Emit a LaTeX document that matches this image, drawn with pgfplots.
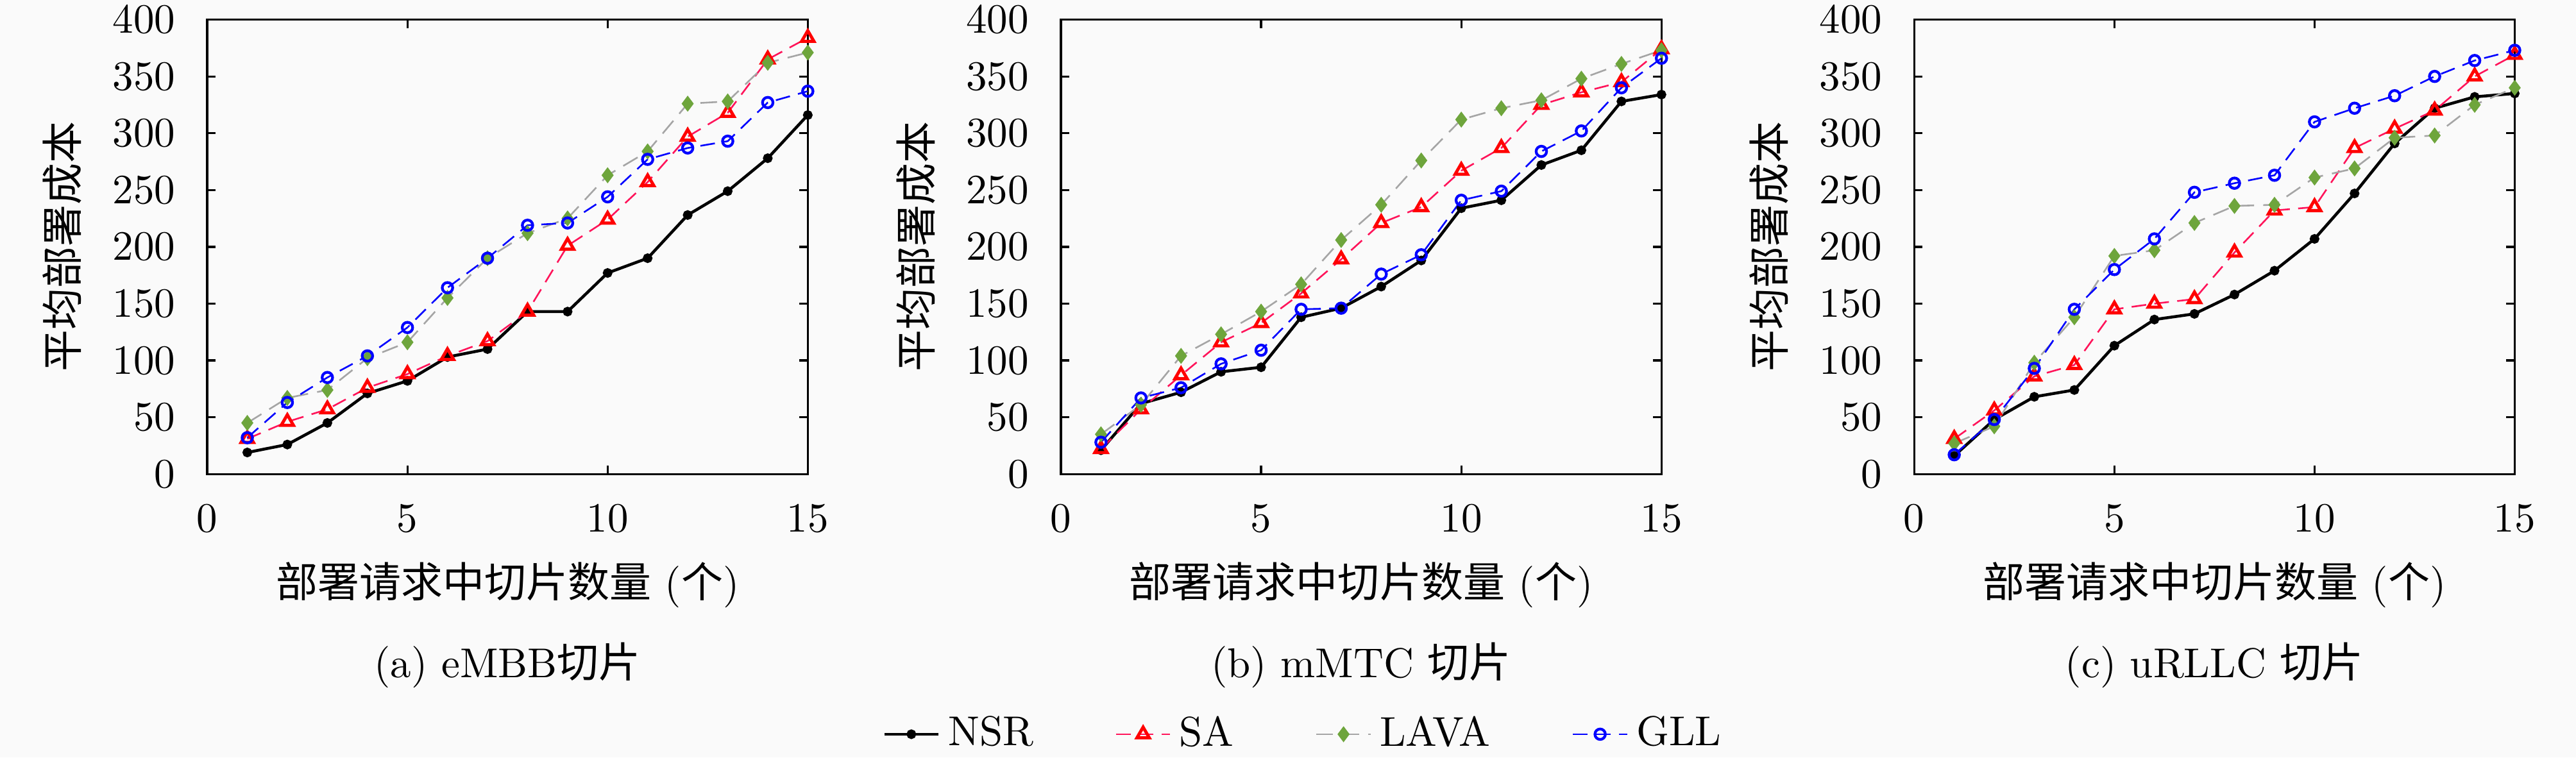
\documentclass[border=0pt]{standalone}
\usepackage{fontspec}
\usepackage{pgfplots}
\usepackage{pgfplotstable}
\pgfplotsset{compat=1.18}
\newfontfamily\cjk{Noto Sans CJK SC}
\definecolor{bg}{RGB}{250,250,250}
\definecolor{sared}{RGB}{255,20,90}
\definecolor{lavagreen}{RGB}{110,165,60}
\definecolor{lavagray}{RGB}{165,165,165}

% eMBB
\pgfplotstableread{
x nsr sa lava gll
1 19 31 45 32
2 26 46 67 63
3 45 57 74 85
4 71 76 102 104
5 82 88 116 129
6 103 104 155 164
7 110 117 190 190
8 143 143 212 219
9 143 201 225 221
10 177 224 263 244
11 190 257 284 277
12 228 297 326 287
13 249 318 328 293
14 278 365 362 327
15 316 384 371 337
}\tA
% mMTC
\pgfplotstableread{
x nsr sa lava gll
1 21 22 35 28
2 62 57 61 67
3 72 87 104 76
4 90 116 123 97
5 94 133 143 109
6 138 159 167 145
7 146 189 206 146
8 165 221 237 176
9 188 235 276 193
10 234 267 312 241
11 241 287 322 249
12 272 325 329 284
13 285 336 348 302
14 328 345 361 340
15 334 374 373 366
}\tB
% uRLLC
\pgfplotstableread{
x nsr sa lava gll
1 16 31 27 17
2 48 56 42 48
3 68 86 98 93
4 74 96 138 145
5 113 145 192 180
6 136 150 197 207
7 141 154 221 248
8 158 195 236 256
9 179 232 237 263
10 207 235 261 310
11 247 287 269 322
12 291 304 296 333
13 322 320 298 350
14 332 350 325 364
15 335 369 340 373
}\tC

\pgfplotsset{
  myax/.style={
    width=144pt, height=109pt, scale only axis,
    xmin=0, xmax=15, ymin=0, ymax=400,
    xtick={0,5,10,15}, ytick={0,50,...,400},
    tick align=inside, major tick length=2pt,
    axis line style={line width=0.5pt},
    every tick/.style={black, line width=0.5pt},
    xticklabel style={anchor=center, yshift=-10.6pt},
    yticklabel style={anchor=east, inner xsep=0pt, xshift=-7.5pt},
    every axis x label/.style={at={(axis description cs:0.5,0)}, yshift=-26.6pt, anchor=center},
    every axis y label/.style={at={(axis description cs:0,0.5)}, xshift=-34.8pt, rotate=90, anchor=center},
    xlabel={{\cjk 部署请求中切片数量} ({\cjk 个})},
    ylabel={\cjk 平均部署成本},
    legend image code/.code={\draw[mark repeat=2, mark phase=2, ##1] plot coordinates {(0pt,0pt) (6.5pt,0pt) (13pt,0pt)};},
  },
  nsr/.style={black, solid, line width=0.7pt, mark=*, mark size=0.8pt, mark options={solid}},
  sa/.style={sared, line width=0.4pt, dash pattern=on 3.5pt off 2pt, mark=triangle, mark size=1.7pt, mark options={solid, draw=red, line width=0.75pt, fill=white}},
  lava/.style={lavagray, line width=0.4pt, dash pattern=on 4pt off 2.2pt, mark=diamond*, mark size=1.6pt, mark options={solid, draw=lavagreen, fill=lavagreen}},
  gll/.style={blue, line width=0.4pt, dash pattern=on 3.5pt off 2pt, mark=o, mark size=1.25pt, mark options={solid, line width=0.65pt}},
}

\begin{document}
\begin{tikzpicture}
\path[use as bounding box, fill=bg] (-49.7pt,-68.0pt) rectangle (568.0pt,113.7pt);

\begin{axis}[myax, name=a, at={(0pt,0pt)}, anchor=south west,
  legend style={at={(axis description cs:1.83,-0.5725)}, anchor=center, legend columns=4, draw=none, fill=none,
    /tikz/every even column/.append style={column sep=17.6pt}}]
\addplot[nsr] table[x=x, y=nsr] {\tA}; \addlegendentry{NSR}
\addplot[sa] table[x=x, y=sa] {\tA}; \addlegendentry{SA}
\addplot[lava] table[x=x, y=lava] {\tA}; \addlegendentry{LAVA}
\addplot[gll] table[x=x, y=gll] {\tA}; \addlegendentry{GLL}
\end{axis}

\begin{axis}[myax, name=b, at={(204.7pt,0pt)}, anchor=south west]
\addplot[nsr] table[x=x, y=nsr] {\tB};
\addplot[sa] table[x=x, y=sa] {\tB};
\addplot[lava] table[x=x, y=lava] {\tB};
\addplot[gll] table[x=x, y=gll] {\tB};
\end{axis}

\begin{axis}[myax, name=c, at={(409.3pt,0pt)}, anchor=south west]
\addplot[nsr] table[x=x, y=nsr] {\tC};
\addplot[sa] table[x=x, y=sa] {\tC};
\addplot[lava] table[x=x, y=lava] {\tC};
\addplot[gll] table[x=x, y=gll] {\tC};
\end{axis}

\node[anchor=center] at ([yshift=-45.8pt]a.south) {(a) eMBB{\cjk 切片}};
\node[anchor=center] at ([yshift=-45.8pt]b.south) {(b) mMTC {\cjk 切片}};
\node[anchor=center] at ([yshift=-45.8pt]c.south) {(c) uRLLC {\cjk 切片}};
\end{tikzpicture}
\end{document}
